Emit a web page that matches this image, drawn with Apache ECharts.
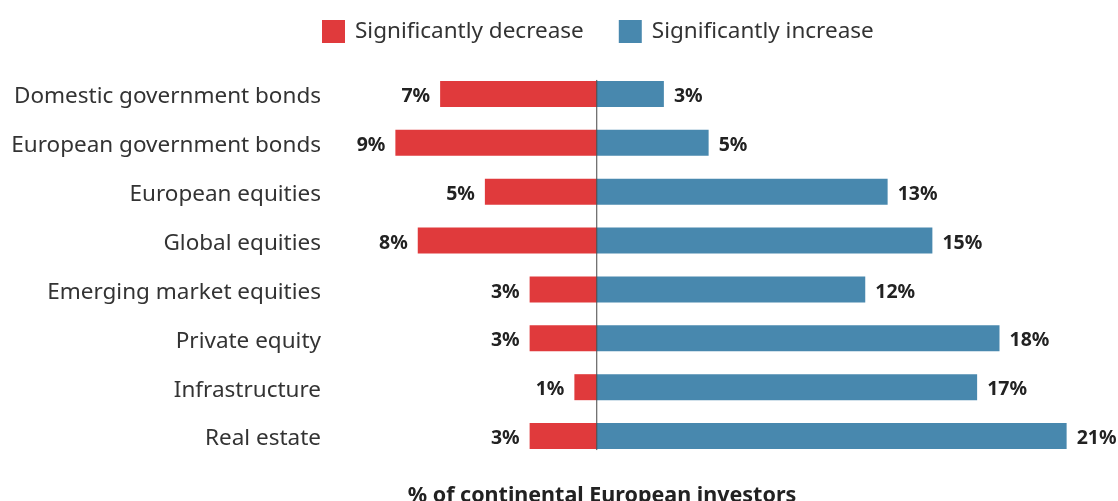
<!DOCTYPE html>
<html><head><meta charset="utf-8">
<script src="https://cdn.jsdelivr.net/npm/echarts@6/dist/echarts.min.js"></script>
<style>html,body{margin:0;padding:0;background:#fff}#c{width:1118px;height:501px}</style>
</head><body><div id="c"></div>
<script>
const categories = ["Domestic government bonds","European government bonds","European equities","Global equities","Emerging market equities","Private equity","Infrastructure","Real estate"];
const decrease = [7, 9, 5, 8, 3, 3, 1, 3];
const increase = [3, 5, 13, 15, 12, 18, 17, 21];
const seriesNames = ["Significantly decrease", "Significantly increase"];
const axisTitle = "% of continental European investors";

const FONT = "Noto Sans";
const valStyle = {fontSize:19.5, fontWeight:'bold', color:'#222', fontFamily:FONT, padding:[5,0,0,0]};
const chart = echarts.init(document.getElementById('c'), null, {renderer:'canvas'});
chart.setOption({
  animation:false,
  textStyle:{fontFamily:FONT},
  legend:{
    left:317, top:15, itemWidth:23, itemHeight:23, itemGap:35,
    icon:'rect',
    textStyle:{fontSize:22.5, color:'#333', fontFamily:FONT, padding:[0,0,0,5]},
    data:seriesNames
  },
  title:{
    text:axisTitle, left:597, top:480, textAlign:'center',
    textStyle:{fontSize:21.5, fontWeight:'bold', color:'#222', fontFamily:FONT}
  },
  grid:{left:373, right:29, top:69.5, bottom:40.5, containLabel:false},
  xAxis:{type:'value', min:-10, max:22, show:false},
  yAxis:{
    type:'category', inverse:true, data:categories,
    axisLine:{show:false}, axisTick:{show:false}, splitLine:{show:false},
    axisLabel:{margin:52, fontSize:22.5, color:'#333', fontFamily:FONT,
               formatter:v=>'{a|'+v+'}',
               rich:{a:{fontSize:22.5, color:'#333', fontFamily:FONT, padding:[6,0,0,0]}}}
  },
  series:[
    {name:seriesNames[0], type:'bar', data:decrease.map(v=>-v), barWidth:26, barGap:'-100%',
     itemStyle:{color:'#E03A3C'},
     label:{show:true, position:'left', distance:10, formatter:p=>'{a|'+Math.abs(p.value)+'%}',
            rich:{a:valStyle}}},
    {name:seriesNames[1], type:'bar', data:increase, barWidth:26, barGap:'-100%',
     itemStyle:{color:'#4888AE'},
     label:{show:true, position:'right', distance:10, formatter:p=>'{a|'+p.value+'%}',
            rich:{a:valStyle}}},
    {type:'custom', data:[[0,0]], silent:true, z:5,
     renderItem:function(params, api){
       const top = api.coord([0, 0]);
       const bot = api.coord([0, categories.length-1]);
       const half = 14;
       return {type:'line', shape:{x1:top[0], y1:top[1]-half, x2:bot[0], y2:bot[1]+half},
               style:{stroke:'#444', lineWidth:1}};
     }}
  ]
});
</script></body></html>
